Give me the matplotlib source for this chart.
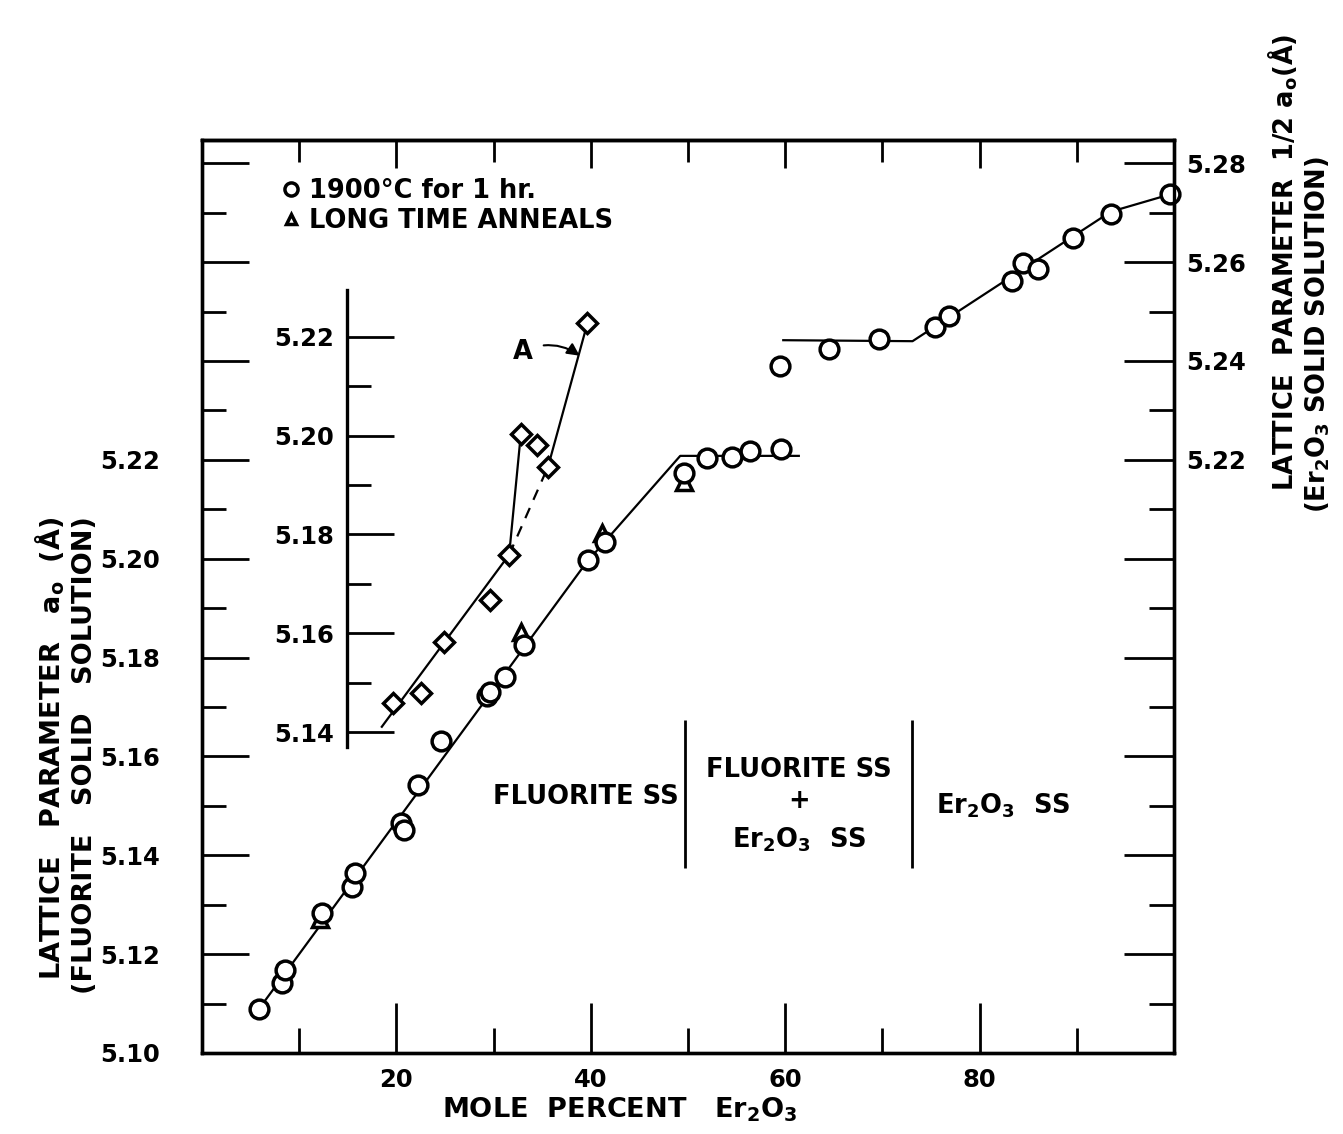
import matplotlib
matplotlib.use("Agg")
import matplotlib.pyplot as plt
from matplotlib.ticker import FixedLocator, FuncFormatter
import numpy as np

plt.rcParams['font.family'] = ['DejaVu Sans']
plt.rcParams['font.weight'] = 'bold'
plt.rcParams['mathtext.fontset'] = 'custom'
plt.rcParams['mathtext.rm'] = 'DejaVu Sans:bold'
plt.rcParams['mathtext.it'] = 'DejaVu Sans:bold'
plt.rcParams['mathtext.bf'] = 'DejaVu Sans:bold'
plt.rcParams['mathtext.sf'] = 'DejaVu Sans:bold'
plt.rcParams['mathtext.default'] = 'rm'

# ---------------- data ----------------
# 1900 C for 1 hr, fluorite solid solution (left axis)
fluor_x = [5.9, 8.2, 8.55, 12.3, 15.45, 15.7, 20.5, 20.8, 22.2, 24.6, 29.3, 29.6,
           31.2, 33.1, 39.7, 41.5, 49.6, 52.0, 54.5, 56.4, 59.6]
fluor_y = [5.1090, 5.1142, 5.1168, 5.1283, 5.1335, 5.1365, 5.1465, 5.1451, 5.1542,
           5.1632, 5.1722, 5.1731, 5.1761, 5.1825, 5.1997, 5.2034, 5.2173, 5.2203,
           5.2206, 5.2218, 5.2221]
# 1900 C for 1 hr, Er2O3 solid solution (right axis, 1/2 a0)
er_x = [59.5, 64.5, 69.6, 75.4, 76.9, 83.3, 84.5, 86.0, 89.6, 93.5, 99.6]
er_y = [5.2390, 5.2425, 5.2444, 5.2469, 5.2491, 5.2562, 5.2599, 5.2587, 5.2649,
        5.2698, 5.2737]
# long time anneals
anneal_x = [12.1, 32.8, 41.2, 49.6]
anneal_y = [5.1272, 5.1852, 5.2051, 5.2156]
# fitted lines
fluor_line_x = [6.3, 39.5, 49.2, 61.4]
fluor_line_y = [5.1101, 5.1991, 5.2208, 5.2208]
er_line_x = [59.8, 73.1, 93.5, 99.6]
er_line_y = [5.2442, 5.2440, 5.2702, 5.2737]

# inset (diamonds)
inset_x = [19.6, 22.56, 24.85, 29.6, 31.6, 32.8, 34.5, 35.6, 39.66]
inset_y = [5.1459, 5.1479, 5.1582, 5.1668, 5.1759, 5.2003, 5.1980, 5.1937, 5.2228]
inset_line1_x = [18.5, 31.6, 32.8]
inset_line1_y = [5.1411, 5.1759, 5.2003]
inset_dash_x = [31.6, 35.6]
inset_dash_y = [5.1759, 5.1937]
inset_line2_x = [35.6, 39.66]
inset_line2_y = [5.1937, 5.2228]
inset_offset = 0.0249

# phase boundaries
boundary_x = [49.74, 73.0]
boundary_y = [5.1374, 5.1674]

x_major = [20, 40, 60, 80]
x_minor = [10, 30, 50, 70, 90]
y_major = list(np.round(np.arange(5.10, 5.281, 0.02), 2))
y_minor = list(np.round(np.arange(5.11, 5.275, 0.02), 2))
inset_major = [5.14, 5.16, 5.18, 5.20, 5.22]
inset_minor = [5.15, 5.17, 5.19, 5.21]

W, H = 1343, 1134
fig = plt.figure(figsize=(W / 100, H / 100), dpi=100)
L, R, B, T = 202 / W, 1174 / W, 1 - 1053 / H, 1 - 140 / H
ax = fig.add_axes([L, B, R - L, T - B])
ylo, yhi = 5.10, 5.2847
ax.set_xlim(0, 100)
ax.set_ylim(ylo, yhi)
for s in ax.spines.values():
    s.set_linewidth(2.4)

FS = 18.5
TFS = 17.5
ax.xaxis.set_major_locator(FixedLocator(x_major))
ax.xaxis.set_minor_locator(FixedLocator(x_minor))
ax.yaxis.set_major_locator(FixedLocator(y_major))
ax.yaxis.set_minor_locator(FixedLocator(y_minor))
ax.yaxis.set_major_formatter(FuncFormatter(lambda v, p: f"{v:.2f}" if v < 5.225 else ""))
ax.tick_params(axis='x', which='major', direction='in', length=36, width=2,
               labelsize=TFS, pad=11, top=False)
ax.tick_params(axis='x', which='minor', direction='in', length=18, width=2, top=False)
ax.tick_params(axis='y', which='major', direction='in', length=34, width=2,
               labelsize=TFS, pad=30, right=False)
ax.tick_params(axis='y', which='minor', direction='in', length=17, width=2, right=False)

sec = ax.secondary_xaxis('top')
sec.xaxis.set_major_locator(FixedLocator(x_major))
sec.xaxis.set_minor_locator(FixedLocator(x_minor))
sec.tick_params(which='major', direction='in', length=20, width=2, labeltop=False)
sec.tick_params(which='minor', direction='in', length=16, width=2, labeltop=False)
sec.spines['top'].set_linewidth(2.4)

axr = ax.twinx()
axr.set_ylim(ylo, yhi)
axr.yaxis.set_major_locator(FixedLocator(y_major))
axr.yaxis.set_minor_locator(FixedLocator(y_minor))
axr.yaxis.set_major_formatter(FuncFormatter(lambda v, p: f"{v:.2f}" if v > 5.215 else ""))
axr.tick_params(axis='y', which='major', direction='in', length=36, width=2,
                labelsize=TFS, pad=9)
axr.tick_params(axis='y', which='minor', direction='in', length=18, width=2)
for s in axr.spines.values():
    s.set_linewidth(2.4)

# main data
lw = 1.6
ax.plot(fluor_line_x, fluor_line_y, color='black', lw=lw, zorder=2)
ax.plot(er_line_x, er_line_y, color='black', lw=lw, zorder=2)
mk = dict(linestyle='none', markerfacecolor='white', markeredgecolor='black',
          markeredgewidth=2.5, clip_on=False, zorder=4)
h_tri, = ax.plot(anneal_x, anneal_y, marker='^', markersize=11, **mk)
h_circ, = ax.plot(fluor_x, fluor_y, marker='o', markersize=13.5, **mk)
ax.plot(er_x, er_y, marker='o', markersize=13.5, **mk)

ax.legend([h_circ, h_tri], ["1900°C for 1 hr.", "LONG TIME ANNEALS"],
          loc='upper left', bbox_to_anchor=(0.065, 0.978), frameon=False,
          fontsize=FS, markerscale=0.7, handlelength=0.6, handletextpad=0.4,
          labelspacing=0.15, borderpad=0.2)

# phase region texts
ax.vlines(boundary_x, boundary_y[0], boundary_y[1], color='black', lw=2)
ax.text(49.0, 5.1518, "FLUORITE SS", ha='right', va='center', fontsize=FS)
ax.text(61.4, 5.1572, "FLUORITE SS", ha='center', va='center', fontsize=FS)
ax.text(61.4, 5.1510, "+", ha='center', va='center', fontsize=FS)
ax.text(61.4, 5.1432, "Er$_2$O$_3$  SS", ha='center', va='center', fontsize=FS)
ax.text(75.5, 5.1500, "Er$_2$O$_3$  SS", ha='left', va='center', fontsize=FS)

# inset
axi = fig.add_axes(ax.get_position())
axi.patch.set_alpha(0)
axi.set_xlim(0, 100)
axi.set_ylim(ylo - inset_offset, yhi - inset_offset)
for k in ['top', 'right', 'bottom']:
    axi.spines[k].set_visible(False)
axi.spines['left'].set_position(('data', 14.9))
axi.spines['left'].set_bounds(5.137, 5.2294)
axi.spines['left'].set_linewidth(2.4)
axi.set_xticks([])
axi.yaxis.set_major_locator(FixedLocator(inset_major))
axi.yaxis.set_minor_locator(FixedLocator(inset_minor))
axi.yaxis.set_major_formatter(FuncFormatter(lambda v, p: f"{v:.2f}"))
axi.tick_params(axis='y', which='major', direction='in', length=34, width=2,
                labelsize=TFS, pad=9)
axi.tick_params(axis='y', which='minor', direction='in', length=17, width=2)
axi.plot(inset_line1_x, inset_line1_y, color='black', lw=lw, zorder=2)
axi.plot(inset_dash_x, inset_dash_y, color='black', lw=lw, ls=(0, (5, 4)), zorder=2)
axi.plot(inset_line2_x, inset_line2_y, color='black', lw=lw, zorder=2)
axi.plot(inset_x, inset_y, marker='D', markersize=10, **mk)
axi.annotate("A", xy=(38.97, 5.2160), xytext=(33.0, 5.2170), fontsize=FS,
             ha='center', va='center',
             arrowprops=dict(arrowstyle='-|>', color='black', lw=1.5,
                             connectionstyle='arc3,rad=-0.3', shrinkA=6, shrinkB=1))

# axis labels
LFS = 19.5
fig.text(50 / W, 1 - 748 / H, "LATTICE   PARAMETER   a$_{\\mathrm{o}}$  (Å)", rotation=90,
         ha='center', va='center', fontsize=LFS)
fig.text(85 / W, 1 - 755 / H, "(FLUORITE   SOLID   SOLUTION)", rotation=90,
         ha='center', va='center', fontsize=LFS)
fig.text(1283 / W, 1 - 262 / H, "LATTICE  PARAMETER  1/2 a$_{\\mathrm{o}}$(Å)", rotation=90,
         ha='center', va='center', fontsize=FS)
fig.text(1318 / W, 1 - 335 / H, "(Er$_2$O$_3$ SOLID SOLUTION)", rotation=90,
         ha='center', va='center', fontsize=FS)
fig.text(620 / W, 1 - 1110 / H, "MOLE  PERCENT   Er$_2$O$_3$", ha='center', va='center',
         fontsize=LFS)

fig.savefig("out.png", dpi=100)
